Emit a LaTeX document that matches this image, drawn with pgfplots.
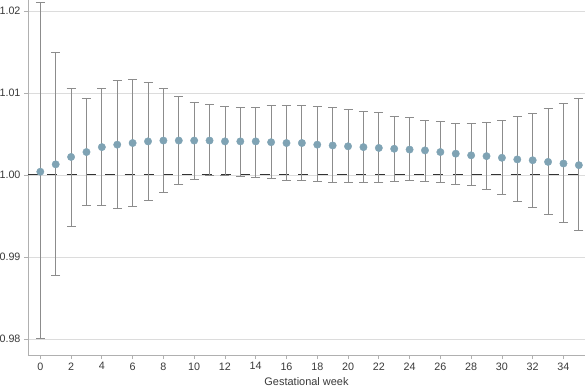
\documentclass[border=0pt]{standalone}
\usepackage{pgfplots}
\pgfplotsset{compat=1.18}
\usepackage{pgfplotstable}
\usepackage{fontspec}
\setmainfont{Liberation Sans}
\definecolor{dotc}{HTML}{7FA3B4}
\definecolor{whisk}{HTML}{8C8C8C}
\definecolor{gridc}{HTML}{DCDCDC}
\definecolor{axc}{HTML}{B0B0B0}
\definecolor{txt}{HTML}{3A3A3A}
\pgfplotstableread{
x y hi lo
0 1.0004 1.0211 0.9801
1 1.0013 1.0150 0.9877
2 1.0022 1.0106 0.9937
3 1.0028 1.0094 0.9963
4 1.0034 1.0105 0.9963
5 1.0037 1.0115 0.9959
6 1.0039 1.0117 0.9962
7 1.0041 1.0113 0.9969
8 1.0042 1.0105 0.9979
9 1.0042 1.0096 0.9988
10 1.0042 1.0089 0.9995
11 1.0042 1.0086 0.99995
12 1.0041 1.0084 0.99995
13 1.0041 1.0083 0.9998
14 1.0041 1.0083 0.9997
15 1.0040 1.0085 0.9996
16 1.0039 1.0085 0.9994
17 1.0039 1.0085 0.9993
18 1.0037 1.0084 0.9992
19 1.0036 1.0083 0.9991
20 1.0035 1.0080 0.9991
21 1.0034 1.0078 0.9991
22 1.0033 1.0076 0.9991
23 1.0032 1.0072 0.9992
24 1.0031 1.0070 0.9993
25 1.0030 1.0067 0.9992
26 1.0028 1.0065 0.9991
27 1.0026 1.0063 0.9989
28 1.0024 1.0063 0.9987
29 1.0023 1.0064 0.9982
30 1.0021 1.0067 0.9976
31 1.0019 1.0071 0.9968
32 1.0018 1.0075 0.9961
33 1.0016 1.0081 0.9952
34 1.0014 1.0087 0.9942
35 1.0012 1.0093 0.9932
}\data
\begin{document}
\begin{tikzpicture}
\begin{axis}[
  scale only axis,
  width=557bp, height=355bp,
  xmin=-0.8, xmax=35.4,
  ymin=0.97805, ymax=1.02134,
  axis lines*=left,
  axis line style={axc, line width=0.8bp},
  xtick={0,2,...,34},
  ytick={0.98,0.99,1.00,1.01,1.02},
  yticklabel style={/pgf/number format/.cd, fixed, fixed zerofill, precision=2},
  /pgf/number format/assume math mode=true,
  tick style={axc, line width=0.8bp},
  tick align=outside,
  major tick length=4bp,
  ticklabel style={font=\fontsize{10.8}{12}\selectfont, text=txt},
  ymajorgrids,
  grid style={gridc, line width=0.8bp},
  xlabel={Gestational week},
  xlabel style={font=\fontsize{11}{12}\selectfont, text=txt, yshift=-1bp},
  clip=false,
]
\coordinate (sw) at (rel axis cs:0,0);
\coordinate (ne) at (rel axis cs:1,1);
\addplot[black!80, line width=1bp, dash pattern=on 10bp off 9.3bp] coordinates {(-0.8,1) (35.4,1)};
\addplot[only marks, mark=*, mark size=3.7bp, mark options={fill=dotc, draw=dotc},
  error bars/.cd, y dir=both, y explicit,
  error bar style={whisk, line width=0.8bp},
  error mark options={rotate=90, mark size=4.5bp, whisk, line width=0.8bp}]
  table[x=x, y=y, y error plus expr=\thisrow{hi}-\thisrow{y}, y error minus expr=\thisrow{y}-\thisrow{lo}] {\data};
\end{axis}
\pgfresetboundingbox
\path ([shift={(-28bp,-35bp)}]sw) rectangle (ne);
\end{tikzpicture}
\end{document}
